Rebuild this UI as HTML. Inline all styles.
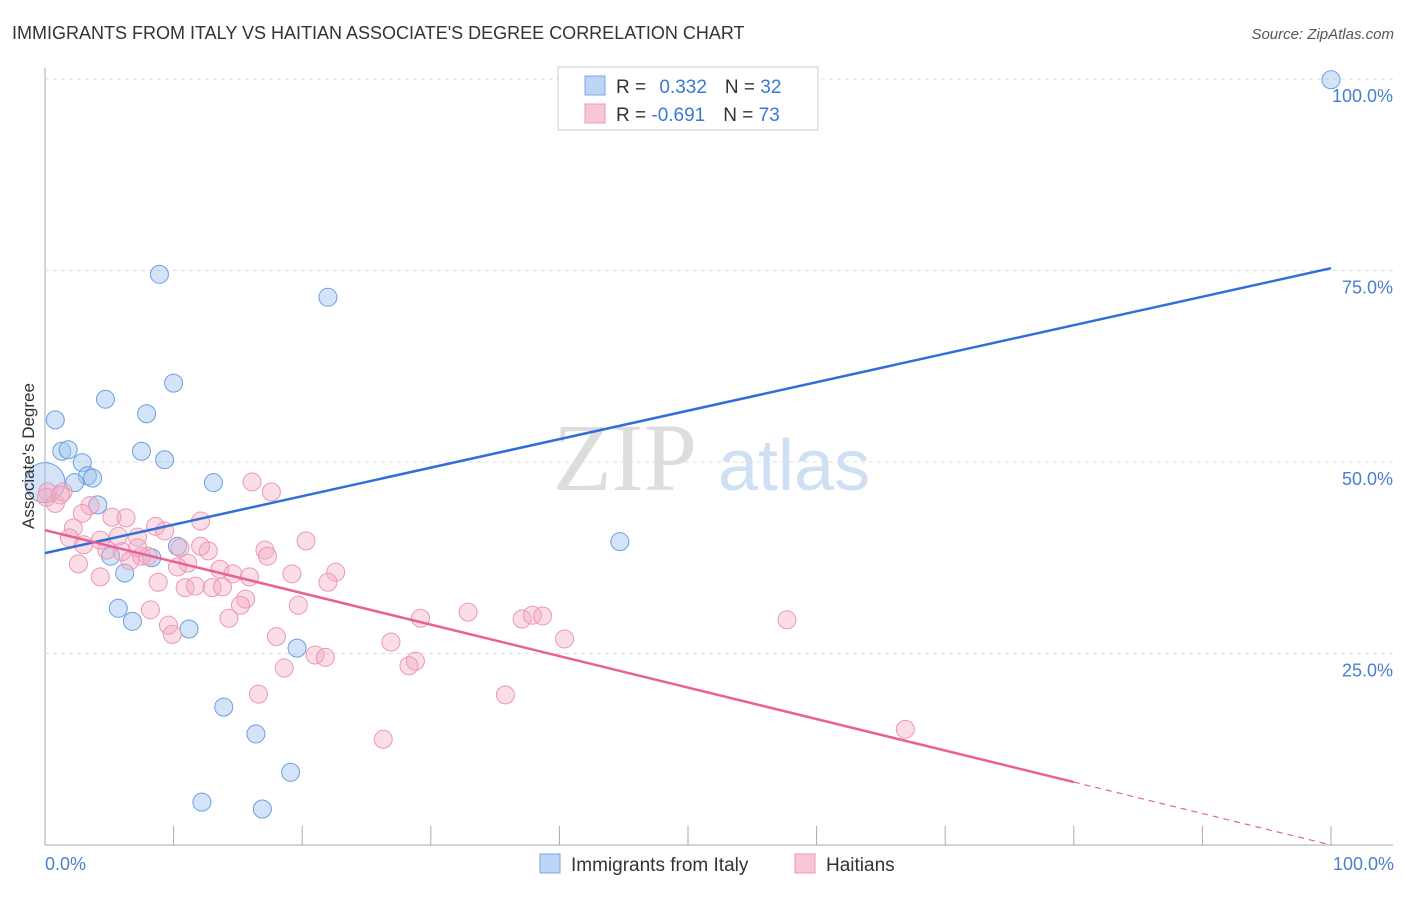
<!DOCTYPE html>
<html><head><meta charset="utf-8"><style>
body{margin:0;background:#fff;font-family:"Liberation Sans",sans-serif}
</style></head><body>
<svg width="1406" height="892" xmlns="http://www.w3.org/2000/svg" id="svg" font-family="Liberation Sans, sans-serif">
<text x="12" y="39" font-size="18" fill="#333">IMMIGRANTS FROM ITALY VS HAITIAN ASSOCIATE'S DEGREE CORRELATION CHART</text>
<text x="1394" y="39" font-size="15" fill="#555" text-anchor="end" font-style="italic">Source: ZipAtlas.com</text>
<text x="553" y="490" font-size="96" fill="#ddd" font-family="Liberation Serif, serif">ZIP</text>
<text x="718" y="490" font-size="72" fill="#cfe0f5">atlas</text>
<g id="grid"></g><g id="marks"></g>
<text transform="translate(34,456) rotate(-90)" font-size="17" fill="#333" text-anchor="middle">Associate's Degree</text>
<text x="45" y="870" font-size="18" fill="#4a7fd0">0.0%</text>
<text x="1394" y="870" font-size="18" fill="#4a7fd0" text-anchor="end">100.0%</text>
<g>
<rect x="558" y="67" width="260" height="63" fill="#fff" stroke="#ccc"/>
<rect x="585" y="76" width="20" height="19" fill="#bcd4f5" stroke="#7aa6e0"/>
<rect x="585" y="104" width="20" height="19" fill="#f9c6d6" stroke="#eb98b4"/>
<text x="616" y="93" font-size="19" fill="#333">R = <tspan fill="#3a78d8" dx="8">0.332</tspan><tspan dx="18">N = </tspan><tspan fill="#3a78d8">32</tspan></text>
<text x="616" y="121" font-size="19" fill="#333">R = <tspan fill="#3a78d8">-0.691</tspan><tspan dx="18">N = </tspan><tspan fill="#3a78d8">73</tspan></text>
</g>
<g>
<rect x="540" y="854" width="20" height="19" fill="#bcd4f5" stroke="#7aa6e0"/>
<text x="571" y="871" font-size="19" fill="#333">Immigrants from Italy</text>
<rect x="795" y="854" width="20" height="19" fill="#f9c6d6" stroke="#eb98b4"/>
<text x="826" y="871" font-size="19" fill="#333">Haitians</text>
</g>
</svg>
<script>
const yTicks=[25,50,75,100];
const yTickLabels=["25.0%","50.0%","75.0%","100.0%"];
const xTicks=[0,10,20,30,40,50,60,70,80,90,100];
const italyX=[100,8.9,22.0,10.0,4.7,7.9,0.8,1.3,1.8,7.5,9.3,2.9,3.3,3.7,2.3,13.1,0,4.1,44.7,10.3,5.1,8.3,6.2,5.7,6.8,11.2,19.6,13.9,16.4,19.1,12.2,16.9];
const italyY=[99.9,74.5,71.5,60.3,58.2,56.3,55.5,51.4,51.6,51.4,50.3,49.9,48.2,47.9,47.3,47.3,47.3,44.4,39.6,39.0,37.7,37.5,35.5,30.9,29.2,28.2,25.7,18.0,14.5,9.5,5.6,4.7];
const haitiX=[0.2,0.8,1.4,0.1,1.2,16.1,17.6,3.5,2.9,6.3,5.2,12.1,2.2,8.6,9.3,1.9,7.2,20.3,5.7,4.8,10.5,12.7,12.1,17.1,6.0,7.5,8.0,6.6,17.3,2.6,11.1,10.3,13.6,14.6,15.9,19.2,22.6,4.3,8.8,22.0,10.9,11.7,13.0,13.8,15.6,15.2,19.7,8.2,14.3,9.6,9.9,29.2,32.9,37.1,37.9,38.7,57.7,18.0,26.9,40.4,21.0,21.8,28.8,28.3,18.6,16.6,35.8,26.3,66.9,4.3,7.2,3.0];
const haitiY=[46.1,44.6,46.1,45.4,45.7,47.4,46.1,44.3,43.3,42.7,42.8,42.3,41.4,41.6,41.0,40.1,40.2,39.7,40.3,38.5,38.8,38.4,39.0,38.5,38.3,37.7,37.7,37.1,37.7,36.7,36.8,36.3,36.0,35.4,35.0,35.4,35.6,35.0,34.3,34.3,33.6,33.8,33.6,33.7,32.1,31.3,31.3,30.7,29.6,28.7,27.5,29.6,30.4,29.5,30.0,29.9,29.4,27.2,26.5,26.9,24.8,24.5,24.0,23.4,23.1,19.7,19.6,13.8,15.1,39.8,38.8,39.2];
const italyLine=[38.1,75.3];
const haitiLine=[41.1,0];
const haitiSolidEnd=80;
const X=v=>45+v*12.86, Y=v=>845-v*7.66;
const NS="http://www.w3.org/2000/svg";
function mk(t,a,p){const e=document.createElementNS(NS,t);for(const k in a)e.setAttribute(k,a[k]);p.appendChild(e);return e;}
const g=document.getElementById('grid'),m=document.getElementById('marks');
let ax=mk('line',{x1:45,y1:68,x2:45,y2:845,stroke:'#aaa'},g);


let bx=mk('line',{x1:45,y1:845,x2:1393,y2:845,stroke:'#aaa'},g);


yTicks.forEach((t,i)=>{
 const l=mk('line',{x1:45,x2:1393,y1:Y(t),y2:Y(t),stroke:'#ddd','stroke-dasharray':'4,4'},g);
 
 
 const tx=mk('text',{x:1393,y:Y(t)+23,'font-size':18,fill:'#4a7fd0','text-anchor':'end'},g);
 tx.textContent=yTickLabels[i];
 
 
});
xTicks.forEach(t=>{
 const l=mk('line',{x1:X(t),x2:X(t),y1:826,y2:845,stroke:'#aaa'},g);
 
 
});
italyX.forEach((x,i)=>{
 const c=mk('circle',{cx:X(x),cy:Y(italyY[i]),r:(x===0?20:9),fill:'rgba(160,195,240,0.45)',stroke:'#6a9fe0','stroke-width':1},m);
 
 
});
haitiX.forEach((x,i)=>{
 const c=mk('circle',{cx:X(x),cy:Y(haitiY[i]),r:9,fill:'rgba(245,170,195,0.4)',stroke:'#eb98b4','stroke-width':1},m);
 
 
});
let bl=mk('line',{x1:X(0),y1:Y(italyLine[0]),x2:X(100),y2:Y(italyLine[1]),stroke:'#2f6fd6','stroke-width':2.5},m);


const hy=v=>haitiLine[0]+(haitiLine[1]-haitiLine[0])*v/100;
let pl=mk('line',{x1:X(0),y1:Y(hy(0)),x2:X(haitiSolidEnd),y2:Y(hy(haitiSolidEnd)),stroke:'#e8609a','stroke-width':2.5},m);


let pd=mk('line',{x1:X(haitiSolidEnd),y1:Y(hy(haitiSolidEnd)),x2:X(100),y2:Y(hy(100)),stroke:'#e8609a','stroke-width':1.2,'stroke-dasharray':'6,5'},m);


</script>
</body></html>
